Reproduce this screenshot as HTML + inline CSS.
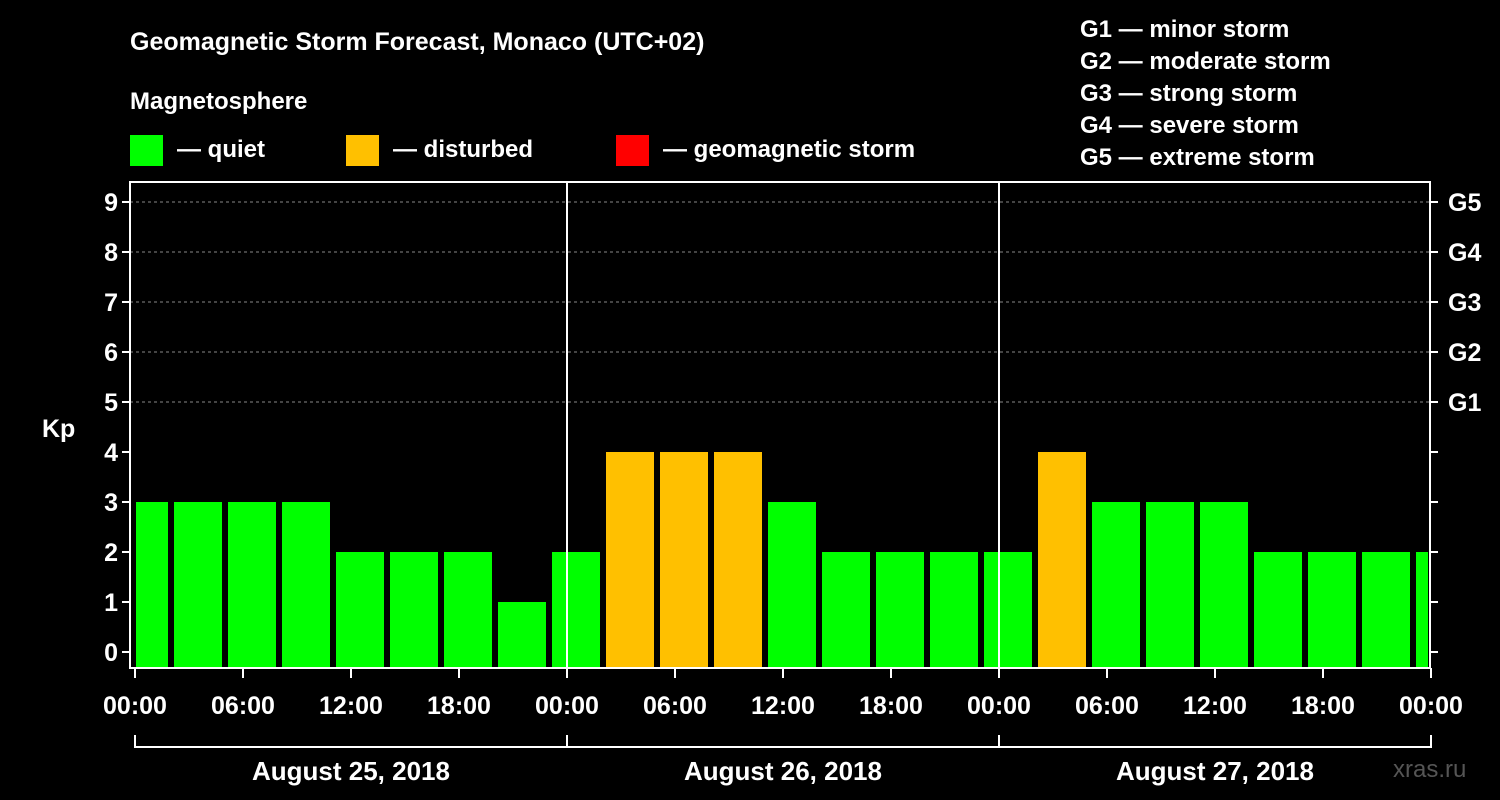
<!DOCTYPE html>
<html><head><meta charset="utf-8"><style>
html,body{margin:0;padding:0;background:#000;}
svg{display:block;font-family:"Liberation Sans",Arial,sans-serif;font-weight:bold;}
</style></head><body>
<svg id="chart" width="1500" height="800" viewBox="0 0 1500 800">
<rect x="0" y="0" width="1500" height="800" fill="#000"/>
<text x="130" y="50" fill="#fff" font-size="25">Geomagnetic Storm Forecast, Monaco (UTC+02)</text>
<text x="130" y="109" fill="#fff" font-size="24">Magnetosphere</text>
<g><rect x="130" y="135" width="33" height="31" fill="#00ff00"/><text x="177" y="157" fill="#fff" font-size="24">— quiet</text></g>
<g><rect x="346" y="135" width="33" height="31" fill="#ffc000"/><text x="393" y="157" fill="#fff" font-size="24">— disturbed</text></g>
<g><rect x="616" y="135" width="33" height="31" fill="#ff0000"/><text x="663" y="157" fill="#fff" font-size="24">— geomagnetic storm</text></g>
<g fill="#fff" font-size="24">
<text x="1080" y="37">G1 — minor storm</text>
<text x="1080" y="69">G2 — moderate storm</text>
<text x="1080" y="101">G3 — strong storm</text>
<text x="1080" y="133">G4 — severe storm</text>
<text x="1080" y="165">G5 — extreme storm</text>
</g>
<text x="42" y="437" fill="#fff" font-size="25">Kp</text>
<text x="1393" y="777" fill="#555" font-size="24" font-weight="normal">xras.ru</text>
<g id="grid"></g><g id="bars"></g><g id="axes"></g>
</svg>
<script>
const kpValues=[3,3,3,3,2,2,2,1,2, 4,4,4,3,2,2,2,2, 4,3,3,3,2,2,2,2];
const yTicks=[0,1,2,3,4,5,6,7,8,9];
const gLabels=["G1","G2","G3","G4","G5"];
const xTickLabels=["00:00","06:00","12:00","18:00","00:00","06:00","12:00","18:00","00:00","06:00","12:00","18:00","00:00"];
const dayLabels=["August 25, 2018","August 26, 2018","August 27, 2018"];

const NS="http://www.w3.org/2000/svg";
const L=130,R=1430,T=182,B=668,X0=135,HR=18;
const y=v=>652-50*v;
const x=h=>X0+HR*h;
function mk(tag,attrs,parent,text){const e=document.createElementNS(NS,tag);for(const k in attrs)e.setAttribute(k,attrs[k]);if(text!==undefined)e.textContent=text;parent.appendChild(e);return e;}
const grid=document.getElementById('grid'),bars=document.getElementById('bars'),axes=document.getElementById('axes');
// gridlines
for(let v=5;v<=9;v++){const l=mk('line',{x1:L,x2:R,y1:y(v),y2:y(v),stroke:'#888','stroke-dasharray':'3,3','stroke-width':1},grid);

}
// bars
kpValues.forEach((v,i)=>{const c=x(3*i+0.5);let x1=Math.max(c-24,L+6),x2=Math.min(c+24,R-2);
const col=v>=5?'#ff0000':(v>=4?'#ffc000':'#00ff00');
const r=mk('rect',{x:x1,y:y(v),width:x2-x1,height:B-y(v),fill:col},bars);

});
// frame
const f=mk('rect',{x:L,y:T,width:R-L,height:B-T,fill:'none',stroke:'#fff','stroke-width':2},axes);


[1,2].forEach(d=>{const l=mk('line',{x1:x(24*d),x2:x(24*d),y1:T,y2:B,stroke:'#fff','stroke-width':2},axes);

});
yTicks.forEach(v=>{
 mk('line',{x1:L-8,x2:L,y1:y(v),y2:y(v),stroke:'#fff','stroke-width':2},axes);
 mk('line',{x1:R,x2:R+8,y1:y(v),y2:y(v),stroke:'#fff','stroke-width':2},axes);
 const t=mk('text',{x:L-12,y:y(v)+9,fill:'#fff','font-size':25,'text-anchor':'end'},axes,String(v));
 
 
 if(v>=5){const g=mk('text',{x:R+18,y:y(v)+9,fill:'#fff','font-size':25},axes,gLabels[v-5]);
 
 }
});
xTickLabels.forEach((s,i)=>{const xx=x(6*i);
 mk('line',{x1:xx,x2:xx,y1:B,y2:B+10,stroke:'#fff','stroke-width':2},axes);
 const t=mk('text',{x:xx,y:714,fill:'#fff','font-size':25,'text-anchor':'middle'},axes,s);
 
 });
mk('line',{x1:x(0),x2:x(72),y1:747,y2:747,stroke:'#fff','stroke-width':2},axes);
for(let d=0;d<=3;d++)mk('line',{x1:x(24*d),x2:x(24*d),y1:735,y2:748,stroke:'#fff','stroke-width':2},axes);
dayLabels.forEach((s,i)=>{const t=mk('text',{x:x(24*i+12),y:780,fill:'#fff','font-size':26,'text-anchor':'middle'},axes,s);
 
 });
</script>
</body></html>
